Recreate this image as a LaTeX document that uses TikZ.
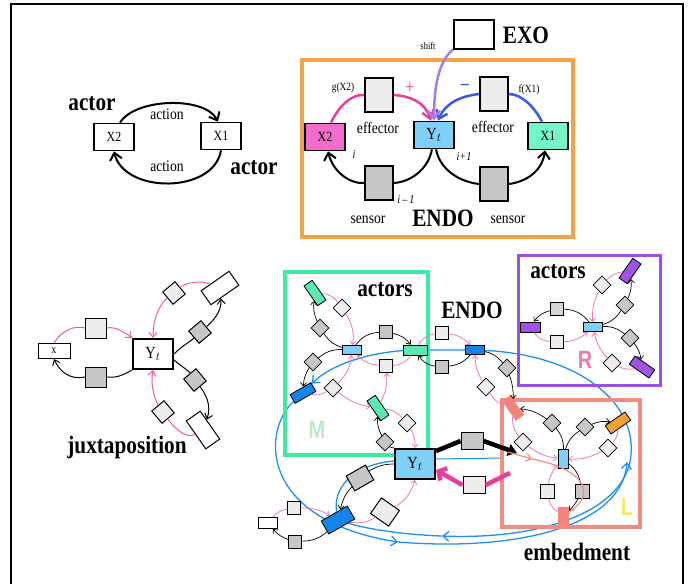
\documentclass[tikz,border=0pt]{standalone}
\usepackage{fontspec}
\setmainfont{Liberation Serif}[FakeStretch=0.85]
\setsansfont{Liberation Sans}[FakeStretch=0.8]
\usetikzlibrary{arrows.meta}
\definecolor{magline}{HTML}{E8409A}
\definecolor{bluline}{HTML}{3A5AE6}
\definecolor{shiftc}{HTML}{A67CEB}
\definecolor{orframe}{HTML}{F4A445}
\definecolor{mintframe}{HTML}{3FEBA2}
\definecolor{mintfill}{HTML}{5EE8B0}
\definecolor{vioframe}{HTML}{9B4FE0}
\definecolor{viofill}{HTML}{A054E6}
\definecolor{salframe}{HTML}{F28B82}
\definecolor{salfill}{HTML}{F4847A}
\definecolor{skyfill}{HTML}{7ED0F8}
\definecolor{deepblue}{HTML}{1684E6}
\definecolor{loopblue}{HTML}{1E90F0}
\definecolor{pinkline}{HTML}{EC78B8}
\definecolor{jpink}{HTML}{E85CA8}
\definecolor{lightg}{HTML}{EDEDED}
\definecolor{darkg}{HTML}{C6C6C6}
\definecolor{xtwofill}{HTML}{F46CCB}
\definecolor{xonefill}{HTML}{72F5CA}
\definecolor{orfill}{HTML}{F5A035}
\definecolor{mletter}{HTML}{BDEBC8}
\definecolor{rletter}{HTML}{F07BAA}
\definecolor{lletter}{HTML}{F2EC6A}
\pgfdeclarelayer{back}
\pgfsetlayers{back,main}

\begin{document}
\begin{tikzpicture}[x=1pt,y=-1pt,
 head/.style={font=\bfseries\fontsize{25}{25}\selectfont},
 word/.style={font=\fontsize{16}{16}\selectfont},
 small/.style={font=\fontsize{11}{11}\selectfont},
 idx/.style={font=\itshape\fontsize{12}{12}\selectfont},
 letter/.style={font=\sffamily\bfseries\fontsize{25}{25}\selectfont},
 boxline/.style={line width=3.5pt},
 abox/.style={draw,line width=1.6pt,minimum width=40pt,minimum height=27pt,inner sep=0pt,font=\fontsize{14}{14}\selectfont},
 unitbox/.style={draw,line width=1.6pt,minimum width=28pt,minimum height=34pt,inner sep=0pt},
 jbox/.style={draw,line width=1pt,minimum width=21pt,minimum height=20pt,inner sep=0pt},
 jdia/.style={jbox,minimum width=16pt,minimum height=16pt},
 jbar/.style={draw,line width=1pt,minimum width=34pt,minimum height=17pt,inner sep=0pt,fill=white},
 ytbox/.style={draw,line width=2pt,minimum width=40pt,minimum height=30pt,inner sep=0pt,font=\fontsize{17}{17}\selectfont},
 sq/.style={draw,line width=0.8pt,minimum size=12.5pt,inner sep=0pt,fill=lightg},
 dsq/.style={sq,fill=darkg},
 hub/.style={draw,line width=0.8pt,minimum width=19pt,minimum height=9pt,inner sep=0pt,fill=skyfill},
 bar/.style={draw,line width=0.8pt,minimum width=24pt,minimum height=10pt,inner sep=0pt},
 gbox/.style={draw,line width=1pt,minimum width=22pt,minimum height=17pt,inner sep=0pt,fill=darkg},
 act/.style={line width=2pt,-{Straight Barb[length=7pt,width=12pt]}},
 feed/.style={line width=2.5pt,-{Straight Barb[length=8pt,width=12pt]}},
 jbk/.style={line width=1pt},
 jbka/.style={jbk,-{Straight Barb[length=5pt,width=8pt]}},
 jpk/.style={draw=jpink,line width=1pt},
 jpka/.style={jpk,-{Straight Barb[length=5pt,width=8pt]}},
 blk/.style={line width=0.7pt},
 blka/.style={blk,-{Straight Barb[length=3.5pt,width=6pt]}},
 pnk/.style={draw=pinkline,line width=0.8pt},
 pnka/.style={pnk,-{Straight Barb[length=3.5pt,width=6pt]}},
 loopb/.style={draw=loopblue,line width=1.3pt},
 loopba/.style={loopb,-{Straight Barb[length=6pt,width=10pt]}}]
\useasboundingbox (0,0) rectangle (691,584);
\draw[line width=2pt] (11,584) -- (11,4) -- (683,4) -- (683,584);

% two actors acting on each other
\node[abox] (ax2) at (114,137) {X2};
\node[abox] (ax1) at (221,136) {X1};
\node[head] at (92,104) {actor};
\node[head] at (254,168) {actor};
\node[word] at (167,114) {action};
\node[word] at (167,166) {action};
\draw[act] ([xshift=6pt]ax2.north) .. controls (135,98) and (205,96) .. ([xshift=-3pt]ax1.north);
\draw[act] (ax1.south) .. controls (214,194) and (124,194) .. (ax2.south);

% endo loop with effectors and sensors
\draw[boxline,draw=orframe] (302,60) rectangle (573,237);
\node[abox,line width=2pt,minimum height=29pt] (exo) at (474,34) {};
\node[head] at (526,35) {EXO};
\node[font=\fontsize{10}{10}\selectfont] at (428,46) {shift};
\node[abox,fill=xtwofill] (ex2) at (325,137) {X2};
\node[abox,fill=skyfill,font=\fontsize{17}{17}\selectfont] (eyt) at (434,135) {Y$_t$};
\node[abox,fill=xonefill] (ex1) at (548,136) {X1};
\node[unitbox,fill=lightg] (effl) at (379,95) {};
\node[unitbox,fill=lightg] (effr) at (494,94) {};
\node[unitbox,fill=darkg] (senl) at (379,183) {};
\node[unitbox,fill=darkg] (senr) at (494,184) {};
\node[word] at (378,128) {effector};
\node[word] at (493,127) {effector};
\node[word] at (368,220) {sensor};
\node[word] at (508,220) {sensor};
\node[head] at (443,218) {ENDO};
\node[small] at (343,88) {g(X2)};
\node[small] at (529,90) {f(X1)};
\node[font=\fontsize{19}{19}\selectfont,text=magline] at (410,88) {+};
\node[font=\bfseries\fontsize{19}{19}\selectfont,text=bluline] at (465,87) {–};
\node[idx] at (354,155) {i};
\node[idx] at (464,157) {i+1};
\node[idx] at (406,200) {i\,–\,1};
\draw[line width=2.5pt,draw=magline] ([xshift=6pt]ex2.north) .. controls (338,108) and (350,94) .. (effl.west);
\draw[feed,draw=magline] (effl.east) .. controls (410,96) and (425,102) .. ([xshift=-3pt]eyt.north);
\draw[line width=2.5pt,draw=bluline] ([xshift=-6pt]ex1.north) .. controls (535,108) and (522,94) .. (effr.east);
\draw[feed,draw=bluline] (effr.west) .. controls (462,96) and (446,102) .. ([xshift=4pt]eyt.north);
\draw[feed,draw=shiftc] (exo.south west) .. controls (438,62) and (434,88) .. (eyt.north);
\draw[line width=2pt] ([xshift=-2pt]eyt.south) .. controls (428,170) and (410,182) .. (senl.east);
\draw[act] (senl.west) .. controls (350,184) and (333,172) .. ([xshift=3pt]ex2.south);
\draw[line width=2pt] ([xshift=2pt]eyt.south) .. controls (440,170) and (460,182) .. (senr.west);
\draw[act] (senr.east) .. controls (525,182) and (542,172) .. ([xshift=-3pt]ex1.south);

% juxtaposition
\node[jbox,minimum width=32pt,minimum height=15pt,fill=white,font=\fontsize{12}{12}\selectfont] (jx) at (54,351) {x};
\node[ytbox,fill=white] (jyt) at (153,354) {Y$_t$};
\node[jbox,fill=lightg] (jl1) at (96,328) {};
\node[jbox,fill=darkg] (jd1) at (96,377) {};
\node[jbar,rotate=35] (jw1) at (220,288) {};
\node[jdia,fill=lightg,rotate=40] (jl2) at (174,293) {};
\node[jdia,fill=darkg,rotate=40] (jd2) at (200,332) {};
\node[jdia,fill=darkg,rotate=40] (jd3) at (195,380) {};
\node[jdia,fill=lightg,rotate=40] (jl3) at (163,412) {};
\node[jbar,rotate=-55] (jw2) at (203,430) {};
\node[head] at (127,447) {juxtaposition};
\draw[jpk] (jx.north) .. controls (62,330) and (75,325) .. (jl1.west);
\draw[jpka] (jl1.east) .. controls (115,326) and (126,333) .. (jyt.north west);
\draw[jbk] (jyt.south west) .. controls (122,376) and (115,378) .. (jd1.east);
\draw[jbka] (jd1.west) .. controls (70,380) and (60,372) .. (jx.south);
\draw[jpk] (jw1) .. controls (200,280) and (185,283) .. (jl2);
\draw[jpka] (jl2) .. controls (162,302) and (153,315) .. (jyt.north);
\draw[jbk] (jyt.east) .. controls (183,345) and (190,342) .. (jd2);
\draw[jbka] (jd2) .. controls (212,322) and (222,312) .. (jw1);
\draw[jbk] ([yshift=-6pt]jyt.east) .. controls (182,367) and (188,370) .. (jd3);
\draw[jbka] (jd3) .. controls (205,393) and (212,405) .. (jw2);
\draw[jpk] (jw2) .. controls (185,440) and (172,425) .. (jl3);
\draw[jpka] (jl3) .. controls (155,400) and (150,385) .. (jyt.south);

% embedment: frames
\draw[boxline,draw=mintframe] (285,272) rectangle (428,455);
\draw[boxline,line width=3pt,draw=vioframe] (518,255) rectangle (660,385);
\draw[boxline,draw=salframe] (502,400) rectangle (640,527);
\node[head] at (385,290) {actors};
\node[head] at (472,310) {ENDO};
\node[head] at (558,272) {actors};
\node[head] at (577,552) {embedment};
\node[letter,text=mletter] at (317,430) {M};
\node[letter,text=rletter] at (585,360) {R};
\node[letter,text=lletter] at (627,507) {L};

% M actors
\node[bar,fill=mintfill,rotate=-55] (ma) at (315,293) {};
\node[sq,rotate=45] (mb) at (342,308) {};
\node[dsq,rotate=45] (mc) at (320,328) {};
\node[hub] (mhub) at (352,350) {};
\node[dsq] (md) at (386,332) {};
\node[sq] (me) at (386,366) {};
\node[bar,fill=mintfill] (mf) at (415,350) {};
\node[dsq,rotate=45] (mg) at (313,362) {};
\node[bar,fill=deepblue,rotate=30] (mh) at (303,393) {};
\node[sq,rotate=45] (mi) at (333,388) {};
\node[bar,fill=mintfill,rotate=-55] (mj) at (378,408) {};
\node[dsq,rotate=45] (mk) at (385,442) {};
\node[sq,rotate=45] (ml) at (407,423) {};

% middle endo
\node[sq] (ea) at (442,333) {};
\node[dsq] (eb) at (442,367) {};
\node[hub,fill=deepblue] (ehub) at (475,350) {};
\node[dsq,rotate=45] (ec) at (507,368) {};
\node[sq,rotate=45] (ed) at (486,387) {};

% R actors
\node[hub] (rhub) at (593,327) {};
\node[bar,minimum width=20pt,fill=viofill] (ra) at (530,327) {};
\node[sq,fill=darkg!60!lightg] (rb) at (557,309) {};
\node[sq] (rc) at (557,342) {};
\node[bar,fill=viofill,rotate=55] (rd) at (630,271) {};
\node[sq,rotate=45] (re) at (602,285) {};
\node[dsq,rotate=45] (rf) at (625,305) {};
\node[dsq,rotate=45] (rg) at (630,338) {};
\node[bar,fill=viofill,rotate=-35] (rh) at (642,367) {};
\node[sq,rotate=45] (ri) at (612,363) {};

% L actors
\node[bar,draw=none,fill=salfill,rotate=-55] (la) at (513,408) {};
\node[dsq,rotate=45] (lb) at (552,423) {};
\node[dsq,rotate=45] (lc) at (585,427) {};
\node[bar,fill=orfill,rotate=35] (ld) at (618,423) {};
\node[sq,rotate=45] (le) at (523,442) {};
\node[sq,rotate=45] (lf) at (608,448) {};
\node[hub,minimum width=10pt,minimum height=19pt] (lhub) at (563,459) {};
\node[sq,minimum size=14pt] (lg) at (547,491) {};
\node[dsq,minimum size=14pt] (lh) at (582,491) {};
\node[bar,draw=none,minimum width=11pt,minimum height=18pt,fill=salfill] (li) at (563,516) {};

% Yt and its own actors
\node[ytbox,fill=skyfill] (yt) at (415,464) {Y$_t$};
\node[gbox] (ya) at (472,441) {};
\node[gbox,fill=lightg] (yb) at (474,485) {};
\node[gbox,rotate=30] (yc) at (360,478) {};
\node[bar,fill=deepblue,minimum width=30pt,minimum height=15pt,rotate=30] (yd) at (338,520) {};
\node[gbox,fill=lightg,minimum height=19pt,rotate=-35] (ye) at (385,512) {};
\node[sq] (yf) at (294,508) {};
\node[dsq] (yg) at (295,542) {};
\node[bar,minimum width=19pt,minimum height=11pt,fill=white] (yh) at (268,523) {};

\coordinate (lin) at (517,453);
\coordinate (lout) at (510,473);
\coordinate (bluein) at (503,458);
\coordinate (sal0) at (508,452);
\coordinate (sal1) at (532,459);
\coordinate (lowl) at (442,536);
\coordinate (lowr) at (398,542);
\coordinate (rise) at (627,462);

\draw[pnk] (ma) to[bend left=25] (mb);
\draw[pnka] (mb) to[bend left=20] (mhub);
\draw[blk] (mhub) to[bend left=20] (mc);
\draw[blka] (mc) to[bend left=15] (ma);
\draw[blk] (mhub) to[bend left=25] (md);
\draw[blka] (md) to[bend left=20] (mf);
\draw[pnk] (mf) to[bend left=25] (me);
\draw[pnka] (me) to[bend left=20] (mhub);
\draw[blk] (mhub) to[bend right=20] (mg);
\draw[blka] (mg) to[bend right=15] (mh);
\draw[pnk] (mh) to[bend right=20] (mi);
\draw[pnka] (mi) to[bend right=20] (mhub);
\draw[pnka] (mi) to[bend right=15] (mj);
\draw[pnka] (mj) to[bend right=15] (me);
\draw[blk] (yt.north west) to[bend left=15] (mk);
\draw[blka] (mk) to[bend left=15] (mj);
\draw[pnk] (mj) to[bend left=20] (ml);
\draw[pnka] (ml) to[bend left=15] (yt.north);

\draw[pnk] (mf) to[bend left=25] (ea);
\draw[pnka] (ea) to[bend left=20] (ehub);
\draw[blk] (ehub) to[bend left=20] (eb);
\draw[blka] (eb) to[bend left=25] (mf);
\draw[blk] (ehub) to[bend left=20] (ec);
\draw[blka] (ec) to[bend left=10] (la);
\draw[pnk] (la) to[bend left=20] (ed);
\draw[pnka] (ed) to[bend left=15] (ehub);

\draw[blk] (rhub) to[bend right=25] (rb);
\draw[blka] (rb) to[bend right=20] (ra);
\draw[pnk] (ra) to[bend right=25] (rc);
\draw[pnka] (rc) to[bend right=20] (rhub);
\draw[pnk] (rd) to[bend right=20] (re);
\draw[pnka] (re) to[bend right=15] (rhub);
\draw[blk] (rhub) to[bend right=20] (rf);
\draw[blka] (rf) to[bend right=15] (rd);
\draw[blk] (rhub) to[bend left=20] (rg);
\draw[blka] (rg) to[bend left=15] (rh);
\draw[pnk] (rh) to[bend left=20] (ri);
\draw[pnka] (ri) to[bend left=15] (rhub);

\draw[blk] (lhub) to[bend right=20] (lb);
\draw[blka] (lb) to[bend right=15] (la);
\draw[pnk] (la) to[bend right=20] (le);
\draw[pnka] (le) to[bend right=15] (lhub);
\draw[blk] (lhub) to[bend left=20] (lc);
\draw[blka] (lc) to[bend left=15] (ld);
\draw[pnk] (ld) to[bend left=20] (lf);
\draw[pnka] (lf) to[bend left=15] (lhub);
\draw[blk] (lhub) to[bend left=20] (lh);
\draw[blka] (lh) to[bend left=10] (li);
\draw[pnk] (li) to[bend left=20] (lg);
\draw[pnka] (lg) to[bend left=15] (lhub);

\draw[blk] (yt.west) to[bend right=15] (yc);
\draw[blka] (yc) to[bend right=15] (yd);
\draw[pnk] (yd) to[bend right=20] (ye);
\draw[pnka] (ye) to[bend right=20] (yt.south);
\draw[pnk] (yh) to[bend left=20] (yf);
\draw[pnka] (yf) to[bend left=15] (yd);
\draw[blk] (yd) to[bend left=20] (yg);
\draw[blka] (yg) to[bend left=15] (yh);

% sensor and effector of the embedded Yt
\draw[line width=4.5pt] ([yshift=-3pt]yt.north east) -- (ya.west);
\draw[line width=4.5pt,-{Triangle[length=9pt,width=12pt]}] (ya.east) -- (lin);
\draw[line width=4.5pt,draw=magline] (lout) -- (yb.east);
\draw[line width=4.5pt,draw=magline,-{Straight Barb[length=6pt,width=14pt]}] (yb.west) -- ([yshift=-6pt]yt.east);
\draw[salframe,line width=1.2pt,-{Straight Barb[length=5pt,width=8pt]}] (sal0) -- (sal1);
\draw[salframe,line width=1.2pt] (sal1) .. controls (580,468) and (600,492) .. (li);

% embedding loops
\begin{pgfonlayer}{back}
\draw[loopba] (ehub.center) -- (mf.center) .. controls (370,351) and (330,365) .. (mh);
\draw[loopba] (ehub.center) .. controls (575,352) and (636,400) .. (631,455) .. controls (626,512) and (540,540) .. (lowl);
\draw[loopb] (lowl) .. controls (410,535) and (370,530) .. (yd);
\draw[loopba] (mh) .. controls (262,430) and (258,520) .. (lowr);
\draw[loopba] (lowr) .. controls (520,552) and (622,525) .. (rise);
\draw[loopb] ([yshift=3pt]yt.west) .. controls (350,465) and (333,490) .. (yd);
\draw[loopb,line width=1pt] ([yshift=5pt]yt.east) -- (bluein);
\end{pgfonlayer}
\end{tikzpicture}
\end{document}
